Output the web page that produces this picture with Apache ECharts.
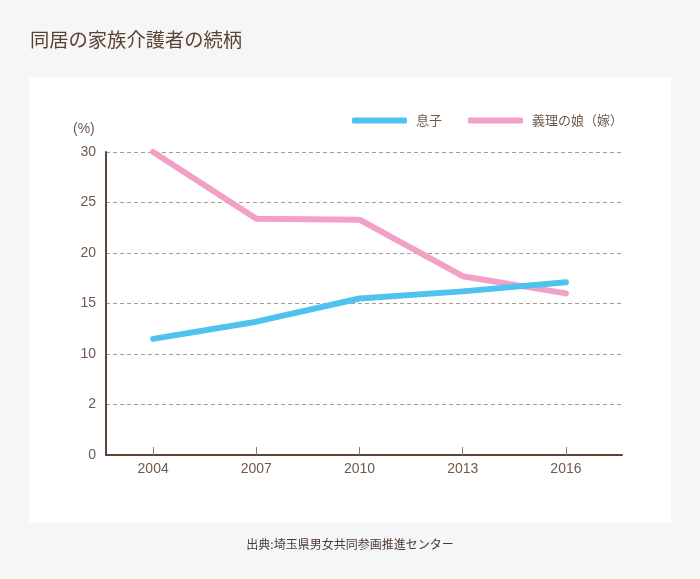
<!DOCTYPE html>
<html><head><meta charset="utf-8">
<script src="https://cdn.jsdelivr.net/npm/echarts@6/dist/echarts.min.js"></script>
<style>html,body{margin:0;padding:0;background:#f6f6f6;}#c{width:700px;height:579px;}</style>
</head><body><div id="c"></div>
<script>
var years = [2004, 2007, 2010, 2013, 2016];
var sonValues = [11.5, 13.2, 15.5, 16.2, 17.1];
var daughterInLawValues = [30.0, 23.4, 23.3, 17.7, 16.0];
var seriesNames = ['息子', '義理の娘（嫁）'];
var yTickLabels = ['0', '2', '10', '15', '20', '25', '30'];
var titleText = '同居の家族介護者の続柄';
var sourceText = '出典:埼玉県男女共同参画推進センター';

var brown = '#5c4536';
var labelColor = '#6e5a4c';
var font = '"Liberation Sans", "Noto Sans CJK JP", sans-serif';
var cjk = '"Noto Sans CJK JP", sans-serif';

function pairs(vals){ return years.map(function(y,i){ return [y, vals[i]]; }); }

var chart = echarts.init(document.getElementById('c'));
chart.setOption({
  backgroundColor: '#f6f6f6',
  animation: false,
  graphic: [
    {type:'rect', left:29, top:77, shape:{width:642, height:446}, style:{fill:'#ffffff'}, z:-10},
    {type:'text', left:30, top:30, style:{text:titleText, font:'19.3px ' + cjk, fill:'#5a4232'}},
    {type:'text', left:73, top:122, style:{text:'(%)', font:'14px ' + font, fill:labelColor}},
    {type:'text', left:'center', top:538, style:{text:sourceText, font:'12px ' + cjk, fill:'#4a3a30'}}
  ],
  legend: {
    top: 109, left: 347,
    itemWidth: 55, itemHeight: 6, itemGap: 26,
    icon: 'roundRect',
    textStyle: {fontFamily: cjk, fontSize: 13, color: labelColor, padding:[0,0,0,4]},
    data: seriesNames
  },
  grid: {left: 106, right: 78, top: 152, bottom: 124},
  xAxis: {
    type: 'value', min: 2002.63, max: 2017.63,
    axisLine: {lineStyle: {color: brown, width: 2}},
    axisTick: {show: true, inside: true, length: 8, customValues: years, lineStyle: {color: '#8a7868', width: 1}},
    axisLabel: {customValues: years, color: labelColor, fontFamily: font, fontSize: 14, margin: 7,
      formatter: function(v){ return String(Math.round(v)); }},
    splitLine: {show: false}
  },
  yAxis: {
    type: 'value', min: 0, max: 30, interval: 5,
    axisLine: {show: true, lineStyle: {color: brown, width: 2}},
    axisTick: {show: false},
    axisLabel: {color: labelColor, fontFamily: font, fontSize: 14, margin: 10,
      formatter: function(v){ return yTickLabels[Math.round(v/5)]; }},
    splitLine: {lineStyle: {color: '#a99b8f', type: [4, 3], width: 1}}
  },
  series: [
    {name: seriesNames[0], type: 'line', data: pairs(sonValues), showSymbol: false, symbol: 'none',
     color: '#4fc3f0', lineStyle: {width: 6, color: '#4fc3f0', cap: 'round', join: 'round'}, z: 3},
    {name: seriesNames[1], type: 'line', data: pairs(daughterInLawValues), showSymbol: false, symbol: 'none',
     color: '#f2a0c6', lineStyle: {width: 6, color: '#f2a0c6', cap: 'round', join: 'round'}, z: 2}
  ]
});
</script>
</body></html>
